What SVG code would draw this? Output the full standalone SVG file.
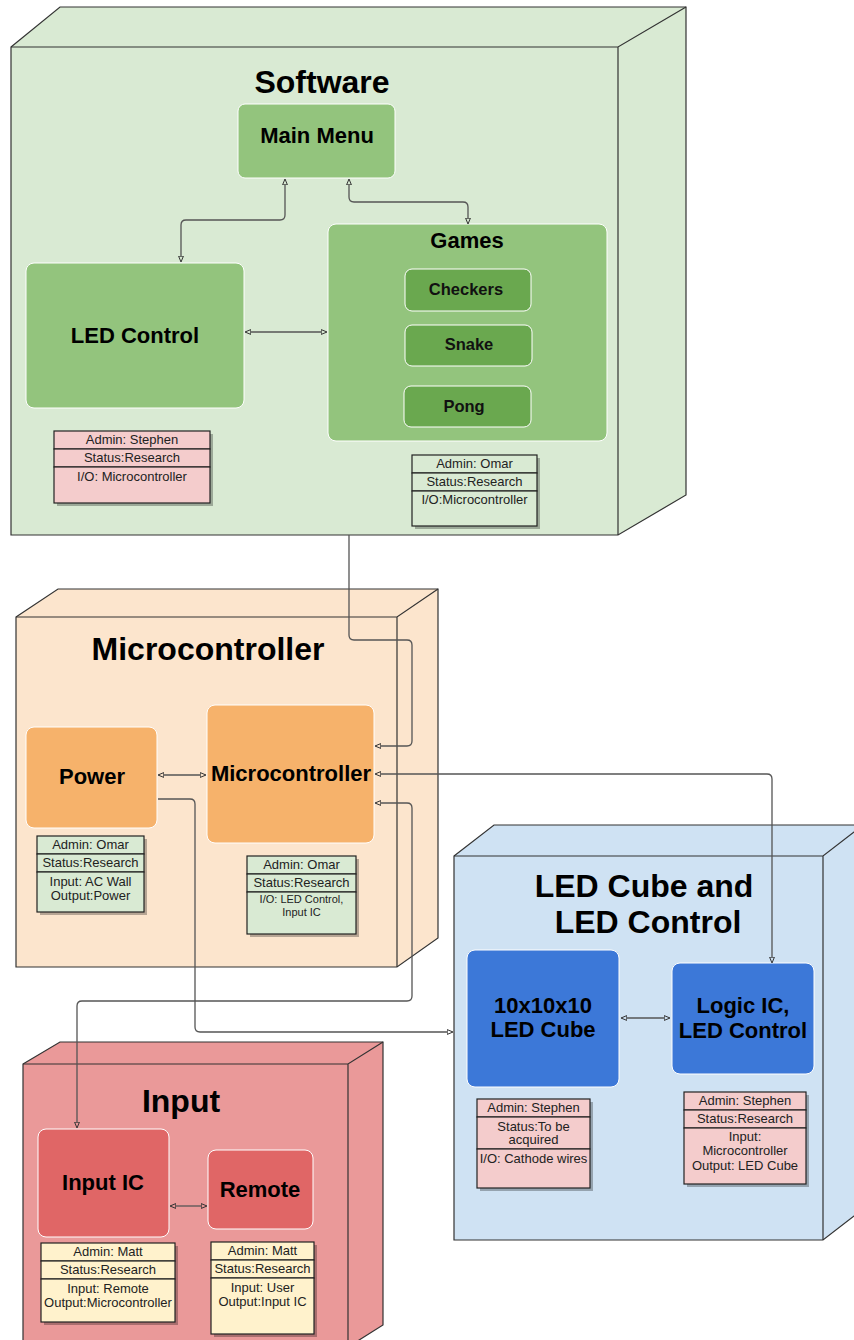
<svg xmlns="http://www.w3.org/2000/svg" width="854" height="1340" viewBox="0 0 854 1340">
  <style>
    .cube { stroke: #333; stroke-width: 1.2; }
    .edge { fill: none; stroke: #333; stroke-width: 1.2; }
    .title { font-family: "Liberation Sans", Arial, sans-serif; font-weight: bold; font-size: 32px; text-anchor: middle; fill: #000; }
    .node { stroke: #fff; stroke-width: 1; }
    .lbl { font-family: "Liberation Sans", Arial, sans-serif; font-weight: bold; font-size: 22px; text-anchor: middle; fill: #000; }
    .lbl-s { font-family: "Liberation Sans", Arial, sans-serif; font-weight: bold; font-size: 16.5px; text-anchor: middle; fill: #111; }
    .tbl { stroke: #222; stroke-width: 1.2; }
    .sh { fill: #000; opacity: 0.28; }
    .tt { font-family: "Liberation Sans", Arial, sans-serif; font-size: 13px; text-anchor: middle; fill: #222; }
    .tt-s { font-family: "Liberation Sans", Arial, sans-serif; font-size: 11px; text-anchor: middle; fill: #222; }
    .conn { fill: none; stroke: #555; stroke-width: 1.3; }
    .pink { fill: #f4cccc; }
    .mint { fill: #d9ead3; }
    .cream { fill: #fff2cc; }
  </style>
  <defs>
    <marker id="ah" viewBox="0 0 7 6" markerWidth="7" markerHeight="6" refX="0.3" refY="3" orient="auto-start-reverse" markerUnits="userSpaceOnUse">
      <path d="M0.5,0.6 L6.3,3 L0.5,5.4 Z" fill="none" stroke="#333" stroke-width="1"/>
    </marker>
  </defs>

  <!-- Software block -->
  <g id="software">
    <path class="cube" fill="#d9ead3" d="M11,47 L60,7 L686,7 L686,495 L618,535 L11,535 Z"/>
    <path class="edge" d="M11,47 H618 L686,7 M618,47 V535"/>
    <text class="title" x="322" y="93">Software</text>
  </g>
  <g id="main-menu">
    <rect class="node" x="238" y="104" width="157" height="74" rx="7" fill="#93c47d"/>
    <text class="lbl" x="317" y="143">Main Menu</text>
  </g>
  <g id="led-control-sw">
    <rect class="node" x="26" y="263" width="218" height="145" rx="8" fill="#93c47d"/>
    <text class="lbl" x="135" y="343">LED Control</text>
  </g>
  <g id="games">
    <rect class="node" x="328" y="224" width="279" height="217" rx="8" fill="#93c47d"/>
    <text class="lbl" x="467" y="248">Games</text>
  </g>
  <g id="checkers">
    <rect class="node" x="405" y="269" width="126" height="42" rx="7" fill="#6aa84f"/>
    <text class="lbl-s" x="466" y="295">Checkers</text>
  </g>
  <g id="snake">
    <rect class="node" x="405" y="325" width="127" height="41" rx="7" fill="#6aa84f"/>
    <text class="lbl-s" x="469" y="350">Snake</text>
  </g>
  <g id="pong">
    <rect class="node" x="404" y="386" width="127" height="41" rx="7" fill="#6aa84f"/>
    <text class="lbl-s" x="464" y="412">Pong</text>
  </g>
  <g id="info-led-control-sw">
    <rect class="sh" x="57" y="434" width="156" height="72"/>
    <rect class="tbl pink" x="54" y="431" width="156" height="18"/>
    <rect class="tbl pink" x="54" y="449" width="156" height="18"/>
    <rect class="tbl pink" x="54" y="467" width="156" height="36"/>
    <text class="tt" x="132" y="444">Admin: Stephen</text>
    <text class="tt" x="132" y="462">Status:Research</text>
    <text class="tt" x="132" y="481">I/O: Microcontroller</text>
  </g>
  <g id="info-games">
    <rect class="sh" x="415" y="458" width="125" height="71"/>
    <rect class="tbl mint" x="412" y="455" width="125" height="18"/>
    <rect class="tbl mint" x="412" y="473" width="125" height="18"/>
    <rect class="tbl mint" x="412" y="491" width="125" height="35"/>
    <text class="tt" x="474.5" y="468">Admin: Omar</text>
    <text class="tt" x="474.5" y="486">Status:Research</text>
    <text class="tt" x="474.5" y="504">I/O:Microcontroller</text>
  </g>

  <!-- Microcontroller block -->
  <g id="microcontroller-block">
    <path class="cube" fill="#fce5cd" d="M16,617 L58,589 L438,589 L438,938 L397,967 L16,967 Z"/>
    <path class="edge" d="M16,617 H397 L438,589 M397,617 V967"/>
    <text class="title" x="208" y="660">Microcontroller</text>
  </g>
  <g id="power">
    <rect class="node" x="26" y="727" width="131" height="101" rx="8" fill="#f6b26b"/>
    <text class="lbl" x="92" y="784">Power</text>
  </g>
  <g id="microcontroller">
    <rect class="node" x="207" y="705" width="167" height="138" rx="8" fill="#f6b26b"/>
    <text class="lbl" x="291" y="781">Microcontroller</text>
  </g>
  <g id="info-power">
    <rect class="sh" x="40" y="839" width="107" height="76"/>
    <rect class="tbl mint" x="37" y="836" width="107" height="18"/>
    <rect class="tbl mint" x="37" y="854" width="107" height="18"/>
    <rect class="tbl mint" x="37" y="872" width="107" height="40"/>
    <text class="tt" x="90.5" y="849">Admin: Omar</text>
    <text class="tt" x="90.5" y="867">Status:Research</text>
    <text class="tt" x="90.5" y="886">Input: AC Wall</text>
    <text class="tt" x="90.5" y="900">Output:Power</text>
  </g>
  <g id="info-microcontroller">
    <rect class="sh" x="250" y="859" width="109" height="78"/>
    <rect class="tbl mint" x="247" y="856" width="109" height="18"/>
    <rect class="tbl mint" x="247" y="874" width="109" height="18"/>
    <rect class="tbl mint" x="247" y="892" width="109" height="42"/>
    <text class="tt" x="301.5" y="869">Admin: Omar</text>
    <text class="tt" x="301.5" y="887">Status:Research</text>
    <text class="tt-s" x="301.5" y="903">I/O: LED Control,</text>
    <text class="tt-s" x="301.5" y="916">Input IC</text>
  </g>

  <!-- LED cube block -->
  <g id="led-cube-block">
    <path class="cube" fill="#cfe2f3" d="M454,856 L494,825 L863,825 L863,1209 L823,1240 L454,1240 Z"/>
    <path class="edge" d="M454,856 H823 L863,825 M823,856 V1240"/>
    <text class="title" x="644" y="897">LED Cube and</text>
    <text class="title" x="648" y="933">LED Control</text>
  </g>
  <g id="led-cube">
    <rect class="node" x="467" y="950" width="152" height="137" rx="8" fill="#3c78d8"/>
    <text class="lbl" x="543" y="1013">10x10x10</text>
    <text class="lbl" x="543" y="1037">LED Cube</text>
  </g>
  <g id="logic-ic">
    <rect class="node" x="672" y="963" width="142" height="111" rx="8" fill="#3c78d8"/>
    <text class="lbl" x="743" y="1013">Logic IC,</text>
    <text class="lbl" x="743" y="1038">LED Control</text>
  </g>
  <g id="info-led-cube">
    <rect class="sh" x="480" y="1102" width="113" height="89"/>
    <rect class="tbl pink" x="477" y="1099" width="113" height="18"/>
    <rect class="tbl pink" x="477" y="1117" width="113" height="32"/>
    <rect class="tbl pink" x="477" y="1149" width="113" height="39"/>
    <text class="tt" x="533.5" y="1112">Admin: Stephen</text>
    <text class="tt" x="533.5" y="1131">Status:To be</text>
    <text class="tt" x="533.5" y="1144">acquired</text>
    <text class="tt" x="533.5" y="1163">I/O: Cathode wires</text>
  </g>
  <g id="info-logic-ic">
    <rect class="sh" x="687" y="1095" width="122" height="92"/>
    <rect class="tbl pink" x="684" y="1092" width="122" height="18"/>
    <rect class="tbl pink" x="684" y="1110" width="122" height="18"/>
    <rect class="tbl pink" x="684" y="1128" width="122" height="56"/>
    <text class="tt" x="745" y="1105">Admin: Stephen</text>
    <text class="tt" x="745" y="1123">Status:Research</text>
    <text class="tt" x="745" y="1141">Input:</text>
    <text class="tt" x="745" y="1155">Microcontroller</text>
    <text class="tt" x="745" y="1170">Output: LED Cube</text>
  </g>

  <!-- Input block -->
  <g id="input-block">
    <path class="cube" fill="#ea9999" d="M23,1064 L60,1042 L383,1042 L383,1325 L348,1347 L23,1347 Z"/>
    <path class="edge" d="M23,1064 H348 L383,1042 M348,1064 V1347"/>
    <text class="title" x="181" y="1112">Input</text>
  </g>
  <g id="input-ic">
    <rect class="node" x="38" y="1129" width="131" height="108" rx="8" fill="#e06666"/>
    <text class="lbl" x="103" y="1190">Input IC</text>
  </g>
  <g id="remote">
    <rect class="node" x="208" y="1150" width="105" height="79" rx="8" fill="#e06666"/>
    <text class="lbl" x="260" y="1197">Remote</text>
  </g>
  <g id="info-input-ic">
    <rect class="sh" x="44" y="1246" width="134" height="79"/>
    <rect class="tbl cream" x="41" y="1243" width="134" height="18"/>
    <rect class="tbl cream" x="41" y="1261" width="134" height="18"/>
    <rect class="tbl cream" x="41" y="1279" width="134" height="43"/>
    <text class="tt" x="108" y="1256">Admin: Matt</text>
    <text class="tt" x="108" y="1274">Status:Research</text>
    <text class="tt" x="108" y="1293">Input: Remote</text>
    <text class="tt" x="108" y="1307">Output:Microcontroller</text>
  </g>
  <g id="info-remote">
    <rect class="sh" x="214" y="1245" width="103" height="92"/>
    <rect class="tbl cream" x="211" y="1242" width="103" height="18"/>
    <rect class="tbl cream" x="211" y="1260" width="103" height="18"/>
    <rect class="tbl cream" x="211" y="1278" width="103" height="56"/>
    <text class="tt" x="262.5" y="1255">Admin: Matt</text>
    <text class="tt" x="262.5" y="1273">Status:Research</text>
    <text class="tt" x="262.5" y="1292">Input: User</text>
    <text class="tt" x="262.5" y="1306">Output:Input IC</text>
  </g>

  <!-- Connectors -->
  <g id="connectors">
    <path class="conn" marker-start="url(#ah)" marker-end="url(#ah)" d="M285,185 V215 Q285,220 280,220 H186 Q181,220 181,225 V256"/>
    <path class="conn" marker-start="url(#ah)" marker-end="url(#ah)" d="M349,185 V197 Q349,202 354,202 H463 Q468,202 468,207 V218"/>
    <path class="conn" marker-start="url(#ah)" marker-end="url(#ah)" d="M251,332 H321"/>
    <path class="conn" marker-end="url(#ah)" d="M349,535 V635 Q349,640 354,640 H407 Q412,640 412,645 V741 Q412,746 407,746 H381"/>
    <path class="conn" marker-start="url(#ah)" marker-end="url(#ah)" d="M164,775 H200"/>
    <path class="conn" marker-start="url(#ah)" marker-end="url(#ah)" d="M381,774 H767 Q772,774 772,779 V957"/>
    <path class="conn" marker-start="url(#ah)" marker-end="url(#ah)" d="M77,1122 V1006 Q77,1001 82,1001 H407 Q412,1001 412,996 V808 Q412,803 407,803 H381"/>
    <path class="conn" marker-end="url(#ah)" d="M158,799 H190 Q195,799 195,804 V1027 Q195,1032 200,1032 H447"/>
    <path class="conn" marker-start="url(#ah)" marker-end="url(#ah)" d="M627,1018 H664"/>
    <path class="conn" marker-start="url(#ah)" marker-end="url(#ah)" d="M176,1206 H201"/>
  </g>
</svg>
